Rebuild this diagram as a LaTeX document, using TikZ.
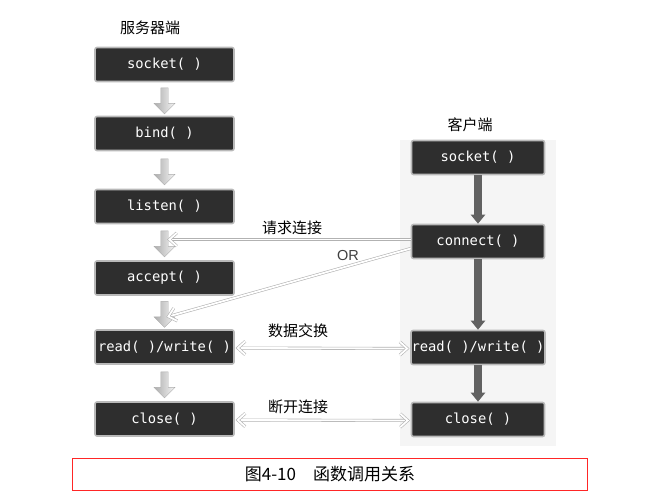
\documentclass[tikz,border=0pt]{standalone}
\usepackage{fontspec}
\newfontfamily\cjk{Noto Sans CJK SC}
\newfontfamily\codefont{DejaVu Sans Mono}
\setmainfont{Liberation Sans}
\usetikzlibrary{arrows.meta,shapes.arrows,calc}
\newcommand\mychev[2]{\draw[dline, line join=miter, line cap=butt] ($(#1)!10pt!42:(#2)$) -- (#1) -- ($(#1)!10pt!-42:(#2)$);}
\begin{document}
\begin{tikzpicture}[x=1pt,y=-1pt,
  fnbox/.style={draw=gray!55, line width=1.6pt, fill=black!82, rounded corners=2pt,
    minimum height=34pt, text=white, font=\codefont\fontsize{13.8}{15}\selectfont, inner sep=0.5pt},
  srvbox/.style={fnbox, minimum width=139pt},
  clibox/.style={fnbox, minimum width=133pt},
  hollow/.style={single arrow, draw=gray!65, shading=axis, left color=gray!65, right color=gray!8,
    minimum height=26pt, minimum width=21pt, single arrow head extend=4pt, shape border rotate=270, inner sep=2pt},
  solid/.style={-{Triangle[width=14pt,length=9pt]}, line width=8pt, draw=black!62},
  dline/.style={draw=gray!60, double=white, double distance=1.8pt, line width=0.6pt},
  lbl/.style={font=\cjk\fontsize{15}{17}\selectfont}
]
\useasboundingbox (0,0) rectangle (648,495);
\fill[gray!8] (400,140) rectangle (556,446);
% server
\node[lbl] (st) at (150,28) {服务器端};
\node[srvbox] (s1) at (164.5,64.5) {socket( )};
\node[srvbox] (s2) at (164.5,133.5) {bind( )};
\node[srvbox] (s3) at (164.5,206.5) {listen( )};
\node[srvbox] (s4) at (164.5,278) {accept( )};
\node[srvbox] (s5) at (164.5,347) {read( )/write( )};
\node[srvbox] (s6) at (164.5,419) {close( )};
\node[hollow] (a1) at (164.5,99) {};
\node[hollow] (a2) at (164.5,170) {};
\node[hollow] (a3) at (164.5,242) {};
\node[hollow] (a4) at (164.5,312.5) {};
\node[hollow] (a5) at (164.5,383) {};
% client
\node[lbl] (ct) at (470,125) {客户端};
\node[clibox] (c1) at (478,157.5) {socket( )};
\node[clibox] (c2) at (478,241.5) {connect( )};
\node[clibox] (c3) at (478,347.5) {read( )/write( )};
\node[clibox] (c4) at (478,419.5) {close( )};
\draw[solid] (c1.south) -- (c2.north);
\draw[solid] (c2.south) -- (c3.north);
\draw[solid] (c3.south) -- (c4.north);
% connections
\coordinate (rq) at ($(c2.west)+(0,-2)$);
\coordinate (rqe) at ($(a3.east |- rq)+(1,0)$);
\draw[dline] (rq) -- (rqe);
\mychev{rqe}{rq}
\node[lbl] (l1) at (292,228) {请求连接};
\coordinate (orS) at ($(c2.west)+(0,7)$);
\coordinate (orE) at ($(a4.east)+(0,4)$);
\draw[dline] (orS) -- (orE);
\mychev{orE}{orS}
\node[font=\fontsize{14.5}{16}\selectfont, text=black!75] (l2) at (348,256) {OR};
\coordinate (d1) at ($(s5.east)+(3,1)$);
\coordinate (d2) at ($(c3.west)+(-3,1)$);
\draw[dline] (d1) -- (d2);
\mychev{d1}{d2}
\mychev{d2}{d1}
\node[lbl] (l3) at (298,331) {数据交换};
\coordinate (e1) at ($(s6.east)+(3,1)$);
\coordinate (e2) at ($(c4.west)+(-3,1)$);
\draw[dline] (e1) -- (e2);
\mychev{e1}{e2}
\mychev{e2}{e1}
\node[lbl] (l4) at (298,407) {断开连接};
% caption
\draw[red!85, line width=0.8pt] (72,458) rectangle (587,490);
\node[font=\cjk\fontsize{17}{19}\selectfont] (cap) at (330,474) {图4-10\quad 函数调用关系};
\end{tikzpicture}
\end{document}
